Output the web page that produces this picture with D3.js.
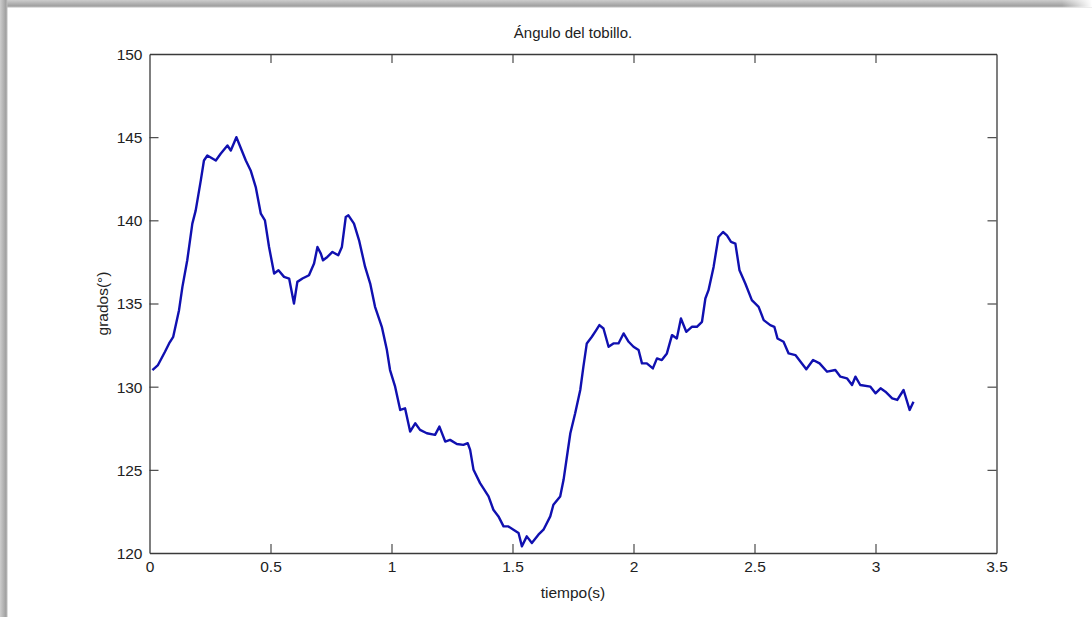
<!DOCTYPE html>
<html>
<head>
<meta charset="utf-8">
<script src="https://cdn.jsdelivr.net/npm/d3@7"></script>
<style>
  html, body { margin: 0; padding: 0; background: #fff; }
  svg { display: block; }
  text { font-family: "Liberation Sans", Arial, sans-serif; fill: #222; }
</style>
</head>
<body>
<svg id="chart" width="1092" height="617"></svg>
<script>
// Ankle angle over time (seconds, degrees)
const tiempo = [
  0.012, 0.035, 0.064, 0.081, 0.098, 0.122, 0.136, 0.156, 0.177, 0.191,
  0.212, 0.225, 0.239, 0.274, 0.294, 0.322, 0.336, 0.359, 0.370, 0.398,
  0.418, 0.439, 0.460, 0.477, 0.494, 0.515, 0.533, 0.556, 0.577, 0.597,
  0.611, 0.632, 0.659, 0.680, 0.694, 0.708, 0.717, 0.735, 0.756, 0.780,
  0.795, 0.811, 0.822, 0.845, 0.866, 0.891, 0.912, 0.932, 0.960, 0.981,
  0.994, 1.015, 1.036, 1.056, 1.077, 1.098, 1.118, 1.146, 1.180, 1.198,
  1.222, 1.242, 1.270, 1.297, 1.315, 1.325, 1.339, 1.366, 1.401, 1.421,
  1.442, 1.463, 1.483, 1.504, 1.525, 1.539, 1.559, 1.580, 1.607, 1.628,
  1.656, 1.669, 1.697, 1.711, 1.725, 1.739, 1.759, 1.780, 1.793, 1.807,
  1.828, 1.846, 1.859, 1.876, 1.897, 1.917, 1.938, 1.959, 1.980, 2.000,
  2.021, 2.035, 2.055, 2.080, 2.097, 2.117, 2.138, 2.159, 2.179, 2.196,
  2.218, 2.241, 2.262, 2.283, 2.297, 2.310, 2.331, 2.351, 2.370, 2.386,
  2.403, 2.421, 2.438, 2.462, 2.489, 2.517, 2.538, 2.565, 2.582, 2.595,
  2.620, 2.641, 2.669, 2.714, 2.742, 2.769, 2.800, 2.834, 2.855, 2.882,
  2.903, 2.917, 2.937, 2.979, 3.000, 3.021, 3.041, 3.069, 3.090, 3.116,
  3.141, 3.157
];
const grados = [
  131.0, 131.3, 132.1, 132.6, 133.0, 134.6, 136.0, 137.6, 139.8, 140.6,
  142.4, 143.6, 143.9, 143.6, 144.0, 144.5, 144.2, 145.0, 144.6, 143.6,
  143.0, 142.0, 140.4, 140.0, 138.4, 136.8, 137.0, 136.6, 136.5, 135.0,
  136.3, 136.5, 136.7, 137.4, 138.4, 138.0, 137.6, 137.8, 138.1, 137.9,
  138.4, 140.2, 140.3, 139.8, 138.8, 137.2, 136.2, 134.8, 133.6, 132.2,
  131.0, 130.0, 128.6, 128.7, 127.3, 127.8, 127.4, 127.2, 127.1, 127.6,
  126.7, 126.8, 126.55, 126.5, 126.6, 126.2, 125.0, 124.2, 123.4, 122.6,
  122.2, 121.6, 121.6, 121.4, 121.2, 120.4, 121.0, 120.6, 121.1, 121.4,
  122.2, 122.9, 123.4, 124.4, 125.8, 127.2, 128.4, 129.8, 131.2, 132.6,
  133.0, 133.4, 133.7, 133.5, 132.4, 132.6, 132.6, 133.2, 132.7, 132.4,
  132.2, 131.4, 131.4, 131.1, 131.7, 131.6, 132.0, 133.1, 132.9, 134.1,
  133.3, 133.6, 133.6, 133.9, 135.3, 135.8, 137.2, 139.0, 139.3, 139.1,
  138.7, 138.6, 137.0, 136.2, 135.2, 134.8, 134.0, 133.7, 133.6, 132.9,
  132.7, 132.0, 131.9, 131.05, 131.6, 131.4, 130.9, 131.0, 130.6, 130.5,
  130.1, 130.6, 130.1, 130.0, 129.6, 129.9, 129.7, 129.3, 129.2, 129.8,
  128.6, 129.1
];
const xTicks = [0, 0.5, 1, 1.5, 2, 2.5, 3, 3.5];
const yTicks = [120, 125, 130, 135, 140, 145, 150];
const titulo = "Ángulo del tobillo.";
const etiquetaX = "tiempo(s)";
const etiquetaY = "grados(°)";

const W = 1092, H = 617;
const area = { left: 149.5, right: 996.5, top: 54, bottom: 553 };
const svg = d3.select("#chart");

// Window frame shading along the top and left edges
const defs = svg.append("defs");
function gradiente(id, horizontal) {
  const g = defs.append("linearGradient").attr("id", id)
    .attr("x1", 0).attr("y1", 0).attr("x2", horizontal ? 1 : 0).attr("y2", horizontal ? 0 : 1);
  g.append("stop").attr("offset", "0%").attr("stop-color", "#cdcdcd");
  g.append("stop").attr("offset", "75%").attr("stop-color", "#a2a2a2");
  g.append("stop").attr("offset", "100%").attr("stop-color", "#bdbdbd");
}
gradiente("sombraSup", false);
gradiente("sombraIzq", true);
const gFade = defs.append("linearGradient").attr("id", "fadeDer")
  .attr("x1", 0).attr("y1", 0).attr("x2", 1).attr("y2", 0);
gFade.append("stop").attr("offset", "0%").attr("stop-color", "#fff").attr("stop-opacity", 0);
gFade.append("stop").attr("offset", "100%").attr("stop-color", "#fff").attr("stop-opacity", 1);

svg.append("rect").attr("x", 0).attr("y", 0).attr("width", W).attr("height", H).attr("fill", "#fff");
svg.append("rect").attr("x", 0).attr("y", 0).attr("width", W).attr("height", 7.5).attr("fill", "url(#sombraSup)");
svg.append("rect").attr("x", 0).attr("y", 0).attr("width", 7.5).attr("height", H).attr("fill", "url(#sombraIzq)");
svg.append("rect").attr("x", W - 30).attr("y", 0).attr("width", 30).attr("height", 7.5).attr("fill", "url(#fadeDer)");

const x = d3.scaleLinear().domain([0, 3.5]).range([area.left, area.right]);
const y = d3.scaleLinear().domain([120, 150]).range([area.bottom, area.top]);

const tickLen = 9;
const axisColor = "#3a3a3a";
const fontTicks = 15.5;

// Box axes with inward ticks; labels only on bottom and left
const ejeInf = svg.append("g").attr("transform", `translate(0,${area.bottom})`)
  .call(d3.axisBottom(x).tickValues(xTicks).tickSizeInner(-tickLen).tickSizeOuter(0)
    .tickPadding(8).tickFormat(d3.format("")));
const ejeSup = svg.append("g").attr("transform", `translate(0,${area.top})`)
  .call(d3.axisTop(x).tickValues(xTicks).tickSizeInner(-tickLen).tickSizeOuter(0).tickFormat(""));
const ejeIzq = svg.append("g").attr("transform", `translate(${area.left},0)`)
  .call(d3.axisLeft(y).tickValues(yTicks).tickSizeInner(-tickLen).tickSizeOuter(0)
    .tickPadding(7).tickFormat(d3.format("")));
const ejeDer = svg.append("g").attr("transform", `translate(${area.right},0)`)
  .call(d3.axisRight(y).tickValues(yTicks).tickSizeInner(-tickLen).tickSizeOuter(0).tickFormat(""));

[ejeInf, ejeSup, ejeIzq, ejeDer].forEach(g => {
  g.select(".domain").attr("stroke", axisColor).attr("stroke-width", 1.3);
  g.selectAll(".tick line").attr("stroke", axisColor).attr("stroke-width", 1.1);
  g.selectAll(".tick text").attr("font-size", fontTicks).attr("fill", "#222")
    .attr("font-family", "'Liberation Sans', Arial, sans-serif");
});
// Corner ticks coincide with the box
ejeInf.selectAll(".tick line").filter(d => d === 0 || d === 3.5).remove();
ejeSup.selectAll(".tick line").filter(d => d === 0 || d === 3.5).remove();
ejeIzq.selectAll(".tick line").filter(d => d === 120 || d === 150).remove();
ejeDer.selectAll(".tick line").filter(d => d === 120 || d === 150).remove();
ejeIzq.selectAll(".tick text").attr("dy", "0.35em");

// Data line
const pts = tiempo.map((t, i) => [t, grados[i]]);
svg.append("path")
  .datum(pts)
  .attr("fill", "none")
  .attr("stroke", "#1010b0")
  .attr("stroke-width", 2.4)
  .attr("stroke-linejoin", "round")
  .attr("d", d3.line().x(d => x(d[0])).y(d => y(d[1])));

// Title and axis labels
const cx = (area.left + area.right) / 2;
svg.append("text").attr("x", cx).attr("y", 38).attr("text-anchor", "middle")
  .attr("font-size", 15).text(titulo);
svg.append("text").attr("x", cx).attr("y", 598).attr("text-anchor", "middle")
  .attr("font-size", 15.5).text(etiquetaX);
svg.append("text").attr("transform", `translate(108,${(area.top + area.bottom) / 2}) rotate(-90)`)
  .attr("text-anchor", "middle").attr("font-size", 15.5).text(etiquetaY);
</script>
</body>
</html>
